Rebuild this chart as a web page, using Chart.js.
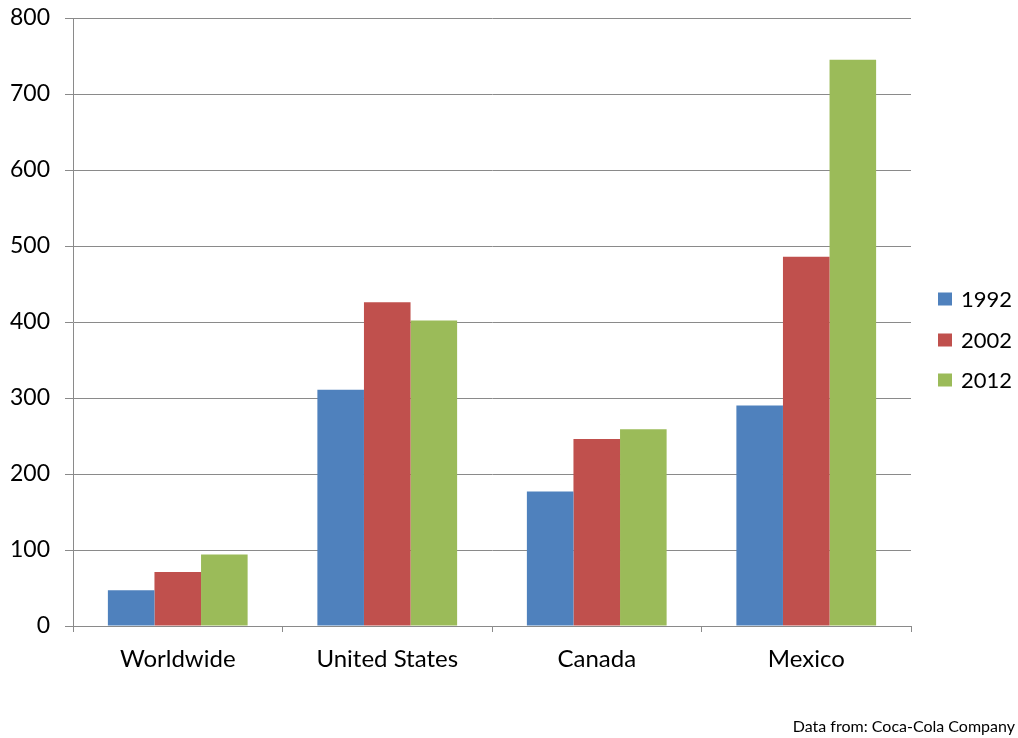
<!DOCTYPE html>
<html>
<head>
<meta charset="utf-8">
<script src="https://cdn.jsdelivr.net/npm/chart.js@4"></script>
<style>
  html, body { margin: 0; padding: 0; background: #fff; }
  #wrap { width: 1018px; height: 738px; position: relative; }
</style>
</head>
<body>
<div id="wrap"><canvas id="c" width="1018" height="738"></canvas></div>
<script>
const categories = ['Worldwide', 'United States', 'Canada', 'Mexico'];
const seriesNames = ['1992', '2002', '2012'];
const values1992 = [47, 311, 177, 290];
const values2002 = [71, 426, 246, 486];
const values2012 = [94, 402, 259, 745];
const yTicks = [0, 100, 200, 300, 400, 500, 600, 700, 800];
const sourceNote = 'Data from: Coca-Cola Company';

const colors = ['#4F81BD', '#C0504D', '#9BBB59'];
const FONT = 'Lato, "Open Sans", sans-serif';
const GRID = '#8a8a8a';

const extras = {
  id: 'extras',
  afterDraw(chart) {
    const ctx = chart.ctx;
    ctx.save();
    ctx.font = '22px ' + FONT;
    ctx.textBaseline = 'middle';
    ctx.textAlign = 'left';
    const ys = [299, 340, 380];
    chart.data.datasets.forEach((ds, i) => {
      const y = ys[i];
      ctx.fillStyle = ds.backgroundColor;
      ctx.fillRect(938, y - 6.5, 14, 13);
      ctx.fillStyle = '#000';
      ctx.fillText(ds.label, 961, y + 1);
    });
    ctx.font = '16px ' + FONT;
    ctx.textAlign = 'right';
    ctx.textBaseline = 'alphabetic';
    ctx.fillStyle = '#000';
    ctx.fillText(sourceNote, 1015, 732);
    ctx.restore();
  }
};

new Chart(document.getElementById('c'), {
  type: 'bar',
  data: {
    labels: categories,
    datasets: [
      { label: seriesNames[0], data: values1992, backgroundColor: colors[0] },
      { label: seriesNames[1], data: values2002, backgroundColor: colors[1] },
      { label: seriesNames[2], data: values2012, backgroundColor: colors[2] }
    ]
  },
  options: {
    responsive: false,
    animation: false,
    devicePixelRatio: 1,
    layout: { padding: { top: 18, right: 107, left: 0, bottom: 0 } },
    datasets: { bar: { categoryPercentage: 0.667, barPercentage: 1.0 } },
    plugins: { legend: { display: false }, tooltip: { enabled: false } },
    scales: {
      x: {
        afterFit(scale) { scale.height = 112; scale.paddingLeft = 0; scale.paddingRight = 0; },
        grid: { display: true, drawOnChartArea: false, offset: true, color: GRID, tickLength: 6 },
        border: { display: true, color: GRID, width: 1 },
        ticks: { color: '#000', font: { family: FONT, size: 24 }, padding: 13 }
      },
      y: {
        min: 0, max: 800,
        afterBuildTicks(scale) { scale.ticks = yTicks.map(v => ({ value: v })); },
        afterFit(scale) { scale.width = 73; scale.paddingTop = 0; scale.paddingBottom = 0; },
        grid: { color: GRID, tickLength: 8 },
        border: { display: true, color: GRID, width: 1 },
        ticks: { color: '#000', font: { family: FONT, size: 23 }, padding: 15 }
      }
    }
  },
  plugins: [extras]
});
</script>
</body>
</html>
